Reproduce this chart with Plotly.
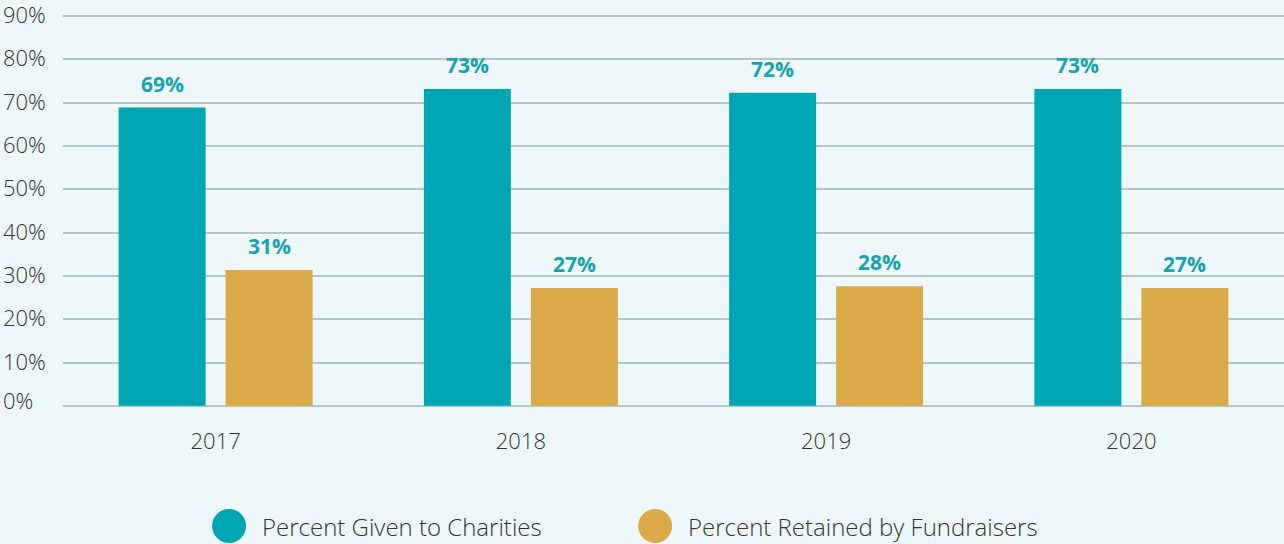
import plotly.graph_objects as go

years = ["2017", "2018", "2019", "2020"]
given = [68.9, 73.2, 72.3, 73.2]
retained = [31.4, 27.2, 27.6, 27.2]
series_names = ["Percent Given to Charities", "Percent Retained by Fundraisers"]
colors = ["#00A6B1", "#D9AA47"]
y_ticks = [0, 10, 20, 30, 40, 50, 60, 70, 80, 90]
y_tick_labels = [f"{v}%" for v in y_ticks]

BG = "#EEF8FA"
GRID = "#B3C8C6"
FONT = "Open Sans"
TXT = "#333333"

fig = go.Figure()
for name, vals, col in zip(series_names, [given, retained], colors):
    fig.add_trace(go.Bar(
        x=years, y=vals, name=name, marker_color=col, marker_line_width=0,
        showlegend=False,
    ))

fig.update_layout(
    width=1284, height=544,
    paper_bgcolor=BG, plot_bgcolor=BG,
    margin=dict(l=63, r=0, t=14, b=136),
    barmode="group", bargap=0.299, bargroupgap=0.187,
    font=dict(family=FONT, color=TXT),
    xaxis=dict(type="category", range=[-0.5, len(years) - 0.5],
               showgrid=False, zeroline=False, showline=False,
               ticks="outside", ticklen=14, tickcolor="rgba(0,0,0,0)",
               tickfont=dict(size=22, family=FONT, weight=300, color=TXT)),
    yaxis=dict(range=[-0.5, 90.5], tickvals=y_ticks, showticklabels=False,
               showgrid=True, gridcolor=GRID, gridwidth=1.5,
               zeroline=True, zerolinecolor=GRID, zerolinewidth=1.5, showline=False),
)

# value labels above bars (positioned via data coordinates)
slot_px = 53.5
for offs, vals in zip([-slot_px, slot_px], [given, retained]):
    for i, v in enumerate(vals):
        fig.add_annotation(x=i, xref="x", y=v, yref="y", text=f"{v:.0f}%",
                           showarrow=False, xshift=offs, yanchor="bottom", yshift=8,
                           font=dict(size=21, family=FONT, weight=700, color="#17A3AD"))

# left-aligned y tick labels
for v, lab in zip(y_ticks, y_tick_labels):
    fig.add_annotation(x=0, xref="paper", y=v, yref="y", text=lab, showarrow=False,
                       xanchor="left", xshift=-62, yshift=2 if v > 0 else 6,
                       font=dict(size=22, family=FONT, weight=300, color=TXT))

# legend with large circles
legend_x = [0.136, 0.485]
ly = -0.2995
for name, col, lx in zip(series_names, colors, legend_x):
    fig.add_shape(type="circle", xref="paper", yref="paper",
                  xsizemode="pixel", ysizemode="pixel",
                  xanchor=lx, yanchor=ly, x0=-17, x1=17, y0=-17, y1=17,
                  fillcolor=col, line_width=0)
    fig.add_annotation(x=lx, xref="paper", y=ly, yref="paper", text=name,
                       showarrow=False, xanchor="left", yanchor="middle", xshift=31,
                       font=dict(size=24, family=FONT, weight=300, color=TXT))

fig.write_html("out.html", post_script="document.body.style.margin='0';",
               config={"displayModeBar": False})
